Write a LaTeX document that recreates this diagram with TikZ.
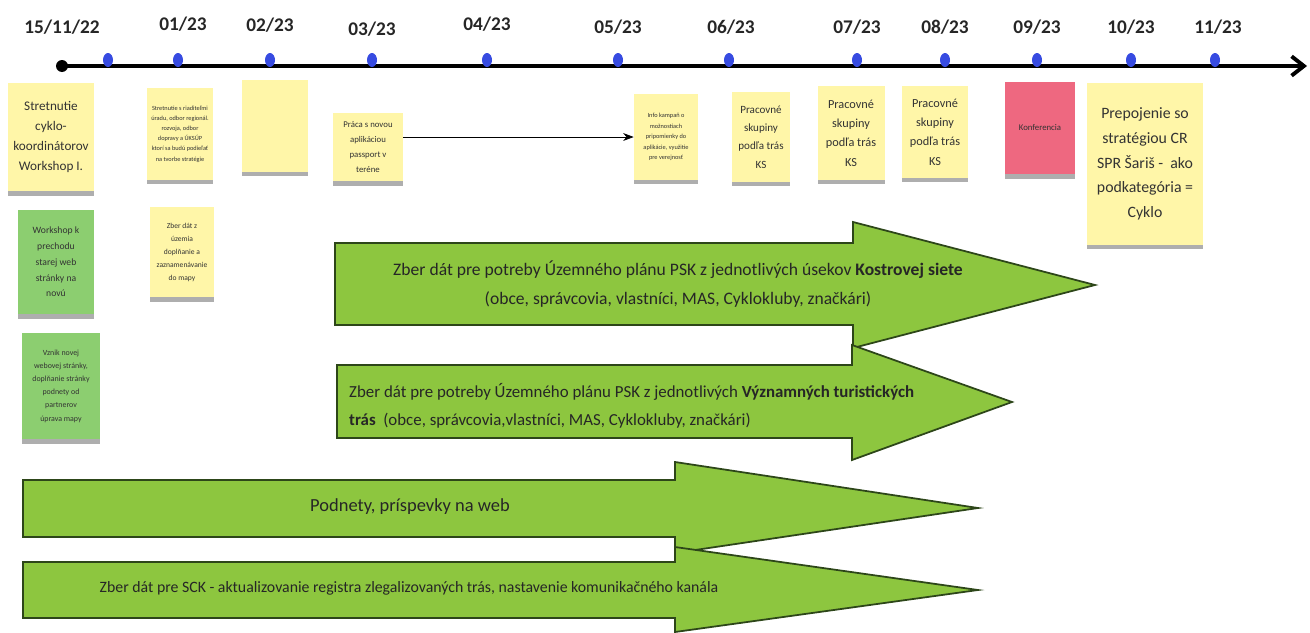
\documentclass[tikz,border=0pt]{standalone}
\usepackage{fontspec}
\setmainfont{Carlito}
\usetikzlibrary{shapes.geometric,shadows,arrows.meta}

\definecolor{noteyellow}{RGB}{255,246,168}
\definecolor{notegreen}{RGB}{140,206,112}
\definecolor{notepink}{RGB}{238,104,128}
\definecolor{arrowgreen}{RGB}{141,198,63}
\definecolor{arrowline}{RGB}{45,70,25}
\definecolor{dotblue}{RGB}{55,75,225}

\tikzset{
  sticky/.style={fill=noteyellow, inner sep=1pt, align=center, text=black!80,
    drop shadow={shadow xshift=0pt, shadow yshift=-2.5pt, fill=black!70, opacity=0.45}},
  greensticky/.style={sticky, fill=notegreen},
  pinksticky/.style={sticky, fill=notepink},
  monthdot/.style={ellipse, fill=dotblue, inner sep=0pt, minimum width=0.2cm, minimum height=0.28cm},
  monthlabel/.style={font=\bfseries\fontsize{11}{13}\selectfont, text=black!85},
  bigarrow/.style={fill=arrowgreen, draw=arrowline, line width=1pt, line join=miter},
  arrowtext/.style={align=center, text=black!85}
}

\begin{document}
\begin{tikzpicture}[x=0.02cm, y=-0.02cm]
\useasboundingbox (0,0) rectangle (1310,632);

% timeline
\node[circle, fill=black, inner sep=0pt, minimum size=0.24cm] (start) at (62,66) {};
\coordinate (end) at (1307,66);
\draw[line width=2.2pt, -{Straight Barb[length=7pt,width=11pt]}] (start.center) -- (end);
\node[monthdot] (d1222) at (108,60) {};
\node[monthdot] (d0123) at (178,60) {};
\node[monthdot] (d0223) at (270,60) {};
\node[monthdot] (d0323) at (372,60) {};
\node[monthdot] (d0423) at (487,60) {};
\node[monthdot] (d0523) at (618,60) {};
\node[monthdot] (d0623) at (729,60) {};
\node[monthdot] (d0723) at (857,60) {};
\node[monthdot] (d0823) at (945,60) {};
\node[monthdot] (d0923) at (1037,60) {};
\node[monthdot] (d1023) at (1131,60) {};
\node[monthdot] (d1123) at (1215,60) {};
\node[monthlabel] (l1122) at (62,27) {15/11/22};
\node[monthlabel] (l0123) at (183,24) {01/23};
\node[monthlabel] (l0223) at (270,25) {02/23};
\node[monthlabel] (l0323) at (372,29) {03/23};
\node[monthlabel] (l0423) at (487,24) {04/23};
\node[monthlabel] (l0523) at (618,27) {05/23};
\node[monthlabel] (l0623) at (731,27) {06/23};
\node[monthlabel] (l0723) at (857,27) {07/23};
\node[monthlabel] (l0823) at (945,27) {08/23};
\node[monthlabel] (l0923) at (1037,27) {09/23};
\node[monthlabel] (l1023) at (1131,27) {10/23};
\node[monthlabel] (l1123) at (1218,27) {11/23};

% sticky notes
\node[sticky, minimum width=1.72cm, minimum height=2.18cm, font=\fontsize{7.5}{11.5}\selectfont] (stretnutie) at (51,137) {Stretnutie\\cyklo-\\koordinátorov\\Workshop I.};
\node[greensticky, minimum width=1.54cm, minimum height=2.1cm, font=\fontsize{5.5}{9}\selectfont] (workshop) at (56,262) {Workshop k\\prechodu\\starej web\\stránky na\\novú};
\node[greensticky, minimum width=1.56cm, minimum height=2.14cm, font=\fontsize{4.5}{7.5}\selectfont] (novyweb) at (61,386) {Vznik novej\\webovej stránky,\\doplňanie stránky\\podnety od\\partnerov\\úprava mapy};
\node[sticky, minimum width=1.32cm, minimum height=1.84cm, font=\fontsize{3.6}{5.8}\selectfont] (riaditelia) at (180,134) {Stretnutie s riaditeľmi\\úradu, odbor regionál.\\rozvoja, odbor\\dopravy a ÚKSÚP\\ktorí sa budú podieľať\\na tvorbe stratégie};
\node[sticky, minimum width=1.28cm, minimum height=1.82cm, font=\fontsize{4.3}{7.4}\selectfont] (zberdat) at (182,252) {Zber dát z\\územia\\doplňanie a\\zaznamenávanie\\do mapy};
\node[sticky, minimum width=1.32cm, minimum height=1.84cm] (prazdna) at (275,126) {};
\node[sticky, minimum width=1.4cm, minimum height=1.38cm, font=\fontsize{5}{8.5}\selectfont] (passport) at (368,147) {Práca s novou\\aplikáciou\\passport v\\teréne};
\node[sticky, minimum width=1.28cm, minimum height=1.72cm, font=\fontsize{3.6}{6}\selectfont] (kampan) at (666,137) {Info kampaň o\\možnostiach\\pripomienky do\\aplikácie, využitie\\pre verejnosť};
\node[sticky, minimum width=1.16cm, minimum height=1.8cm, font=\fontsize{6.3}{10.5}\selectfont] (skupiny1) at (761,137) {Pracovné\\skupiny\\podľa trás\\KS};
\node[sticky, minimum width=1.34cm, minimum height=1.88cm, font=\fontsize{7}{11}\selectfont] (skupiny2) at (851,133) {Pracovné\\skupiny\\podľa trás\\KS};
\node[sticky, minimum width=1.32cm, minimum height=1.84cm, font=\fontsize{7}{11}\selectfont] (skupiny3) at (935,132) {Pracovné\\skupiny\\podľa trás\\KS};
\node[pinksticky, minimum width=1.4cm, minimum height=1.86cm, font=\fontsize{5}{7}\selectfont] (konferencia) at (1040,128) {Konferencia};
\node[sticky, minimum width=2.32cm, minimum height=3.24cm, font=\fontsize{9}{14}\selectfont] (prepojenie) at (1145,164) {Prepojenie so\\stratégiou CR\\SPR Šariš -\ \ ako\\podkategória =\\Cyklo};

\draw[-{Stealth[length=6pt]}] (passport.east |- kampan.west) -- (kampan.west);

% big arrows
\draw[bigarrow] (335,243) -- (853,243) -- (853,222) -- (1095,285) -- (853,348) -- (853,325) -- (335,325) -- cycle;
\node[arrowtext, font=\fontsize{10}{16.5}\selectfont] (kostra) at (678,284) {Zber dát pre potreby Územného plánu PSK z jednotlivých úsekov \textbf{Kostrovej siete}\\(obce, správcovia, vlastníci, MAS, Cyklokluby, značkári)};

\draw[bigarrow] (337,365) -- (852,365) -- (852,345) -- (1012,402) -- (852,460) -- (852,438) -- (337,438) -- cycle;
\node[arrowtext, align=left, anchor=west, font=\fontsize{9.6}{16}\selectfont] (vyznamne) at (343,406) {Zber dát pre potreby Územného plánu PSK z jednotlivých \textbf{Významných turistických}\\\textbf{trás}\ \ (obce, správcovia,vlastníci, MAS, Cyklokluby, značkári)};

\draw[bigarrow] (23,480) -- (675,480) -- (675,462) -- (978,508) -- (675,553) -- (675,537) -- (23,537) -- cycle;
\node[arrowtext, font=\fontsize{10.5}{12}\selectfont] (podnety) at (410,507) {Podnety, príspevky na web};

\draw[bigarrow] (23,562) -- (675,562) -- (675,547) -- (978,590) -- (675,632) -- (675,618) -- (23,618) -- cycle;
\node[arrowtext, font=\fontsize{9}{11}\selectfont] (sck) at (409,588) {Zber dát pre SCK - aktualizovanie registra zlegalizovaných trás, nastavenie komunikačného kanála};
\end{tikzpicture}
\end{document}
